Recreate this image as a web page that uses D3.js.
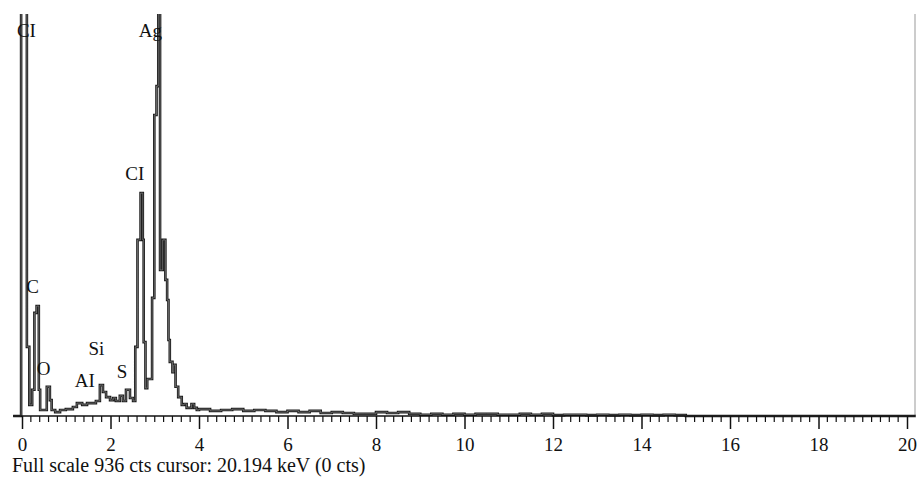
<!DOCTYPE html>
<html>
<head>
<meta charset="utf-8">
<script src="https://cdnjs.cloudflare.com/ajax/libs/d3/7.8.5/d3.min.js"></script>
<style>
  body { margin: 0; background: #fff; }
  text { font-family: "Liberation Serif", "DejaVu Serif", serif; fill: #111; }
</style>
</head>
<body>
<div class="chart"></div>
<script>
// spectrum as step breakpoints: energy (keV) where a level starts, counts of that level
var energy = [-0.20, -0.02, 0.11, 0.165, 0.23, 0.28, 0.33, 0.38, 0.41, 0.56, 0.63, 0.67, 0.75, 0.86, 0.99,
  1.15, 1.24, 1.36, 1.47, 1.67, 1.76, 1.83, 1.90, 1.99, 2.06, 2.12, 2.21, 2.28, 2.35, 2.44, 2.51,
  2.56, 2.61, 2.68, 2.73, 2.75, 2.79, 2.83, 2.94, 2.99, 3.04, 3.08, 3.12, 3.18, 3.24, 3.28, 3.31,
  3.34, 3.40, 3.43, 3.47, 3.53, 3.61, 3.66, 3.72, 3.83, 3.89, 3.95,
  4.00, 4.25, 4.50, 4.75, 5.00, 5.25, 5.50, 5.75, 6.00, 6.25, 6.50, 6.75, 7.00, 7.25, 7.50, 7.75,
  8.00, 8.25, 8.50, 8.75, 9.00, 9.25, 9.50, 9.75, 10.00, 10.25, 10.50, 10.75, 11.00, 11.25, 11.50,
  11.75, 12.00, 12.25, 12.50, 12.75, 13.00, 13.25, 13.50, 13.75, 14.00, 14.25, 14.50, 14.75, 15.00, 20.20];
var counts = [0, 1500, 161, 26, 61, 240, 256, 61, 14, 68, 37, 14, 9, 14, 16,
  21, 30, 26, 30, 35, 72, 56, 44, 37, 42, 35, 47, 35, 61, 42, 35,
  161, 410, 519, 410, 172, 65, 86, 275, 701, 768, 1200, 340, 410, 317, 270, 177,
  126, 102, 119, 68, 44, 26, 28, 19, 28, 19, 14,
  16, 12, 14, 16, 12, 14, 12, 9, 12, 9, 12, 7, 9, 7, 5, 5,
  9, 7, 9, 5, 3, 5, 3, 5, 3, 5, 5, 3, 3, 5, 3,
  5, 2, 3, 3, 2, 3, 2, 3, 2, 3, 2, 3, 2, 0, 0];

// element labels: text, keV of label centre, counts at text baseline
var peakNames = ["CI", "Ag", "CI", "C", "O", "AI", "Si", "S"];
var peakKeV = [0.10, 2.90, 2.55, 0.24, 0.49, 1.42, 1.68, 2.26];
var peakCts = [882, 882, 549, 286, 95, 67, 142, 88];

var fullScale = 936;
var xTickValues = d3.range(0, 21, 2);
var footer = "Full scale 936 cts cursor: 20.194 keV (0 cts)";

var svgWidth = 918;
var svgHeight = 478;
var plotTop = 14;
var baseY = 416;

var svg = d3.select(".chart")
  .append("svg")
  .attr("width", svgWidth)
  .attr("height", svgHeight);

var x = d3.scaleLinear().domain([0, 20]).range([22, 907]);
var y = d3.scaleLinear().domain([0, fullScale]).range([baseY, plotTop]);

svg.append("clipPath")
  .attr("id", "plotClip")
  .append("rect")
  .attr("x", 0)
  .attr("y", plotTop)
  .attr("width", svgWidth)
  .attr("height", baseY - plotTop + 2);

// right frame line
svg.append("line")
  .attr("x1", 915).attr("x2", 915)
  .attr("y1", plotTop).attr("y2", baseY)
  .attr("stroke", "#aaa")
  .attr("stroke-width", 1.2);

var pts = energy.map(function(e, i) { return [e, counts[i]]; });
var line = d3.line()
  .x(d => x(d[0]))
  .y(d => y(d[1]))
  .curve(d3.curveStepAfter);

var spec = svg.append("g").attr("clip-path", "url(#plotClip)");
spec.append("path")
  .attr("d", line(pts))
  .attr("fill", "none")
  .attr("stroke", "#1a1a1a")
  .attr("stroke-width", 2.6);
spec.append("path")
  .attr("d", line(pts))
  .attr("fill", "none")
  .attr("stroke", "#8a8a8a")
  .attr("stroke-width", 0.7);

// axis: major ticks every 2 keV, minor every 0.2 keV
var axisG = svg.append("g").attr("transform", `translate(0, ${baseY})`);
axisG.append("line")
  .attr("x1", 13).attr("x2", 915)
  .attr("stroke", "#111")
  .attr("stroke-width", 1.5);

var minorTicks = d3.range(0, 101).map(d => d * 0.2).filter(d => Math.abs(d / 2 - Math.round(d / 2)) > 1e-6);
axisG.selectAll(".minor")
  .data(minorTicks)
  .enter()
  .append("line")
  .attr("x1", d => x(d)).attr("x2", d => x(d))
  .attr("y1", 0).attr("y2", 6)
  .attr("stroke", "#111")
  .attr("stroke-width", 1.2);

var bottomAxis = d3.axisBottom(x)
  .tickValues(xTickValues)
  .tickSize(13)
  .tickPadding(9)
  .tickFormat(d3.format("d"));

var ax = axisG.append("g").call(bottomAxis);
ax.select(".domain").remove();
ax.selectAll(".tick line").attr("stroke", "#111").attr("stroke-width", 1.5);
ax.selectAll(".tick text")
  .attr("font-family", "Liberation Serif, serif")
  .attr("font-size", "19px")
  .attr("fill", "#111");

// element labels
svg.selectAll(".peak")
  .data(peakNames)
  .enter()
  .append("text")
  .attr("x", (d, i) => x(peakKeV[i]))
  .attr("y", (d, i) => y(peakCts[i]))
  .attr("text-anchor", "middle")
  .attr("font-size", "19px")
  .text(d => d);

svg.append("text")
  .attr("x", 12)
  .attr("y", 472)
  .attr("font-size", "20px")
  .text(footer);
</script>
</body>
</html>
